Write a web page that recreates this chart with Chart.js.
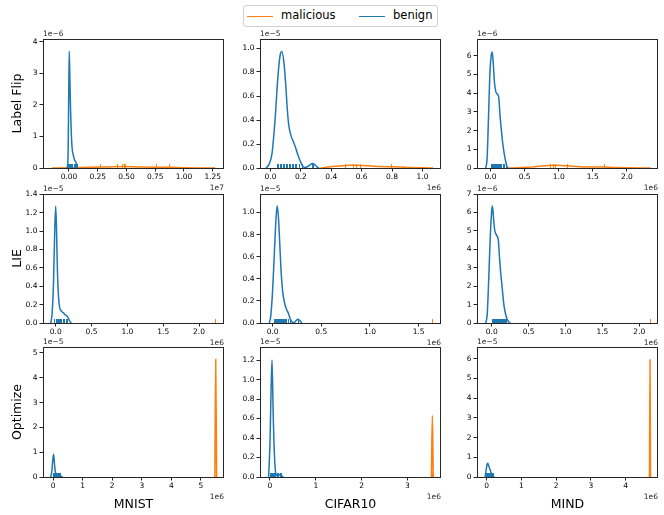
<!DOCTYPE html>
<html>
<head>
<meta charset="utf-8">
<script src="https://cdn.jsdelivr.net/npm/chart.js@4.4.1/dist/chart.umd.min.js"></script>
<style>
  body { margin: 0; background: #fff; }
  #wrap { position: relative; width: 664px; height: 515px; overflow: hidden; font-family: 'DejaVu Sans', sans-serif; }
  .panel { position: absolute; }
  #legend { position: absolute; left: 243px; top: 5px; width: 193px; height: 20px; border: 1px solid #d0d0d0; border-radius: 3px; background: #fff; }
  #legend span.line { position: absolute; top: 10px; width: 26px; height: 0; border-top: 1.5px solid; }
  #legend span.txt { position: absolute; top: 2px; font-size: 11.5px; color: #000; }
</style>
</head>
<body>
<div id="wrap">
  <div id="legend">
    <span class="line" style="left:3px;border-color:#ff7f0e"></span><span class="txt" style="left:37px">malicious</span>
    <span class="line" style="left:115px;border-color:#1f77b4"></span><span class="txt" style="left:149px">benign</span>
  </div>
</div>
<script>
const BLUE = '#1f77b4';
const ORANGE = '#ff7f0e';

const datasetNames = ['MNIST', 'CIFAR10', 'MIND'];
const attackNames = ['Label Flip', 'LIE', 'Optimize'];

// KDE curves as [value, density] in the axis units shown (offset text carries the power of ten)
const flipMnistBenign = [[-0.015,0],[-0.008,0.4],[-0.003,2.0],[0.002,3.7],[0.008,2.8],[0.014,1.8],[0.02,1.1],[0.028,0.6],[0.038,0.4],[0.048,0.25],[0.058,0.2],[0.066,0.12],[0.074,0]];
const flipMnistMalicious = [[-0.15,0],[0.0,0.005],[0.2,0.02],[0.35,0.035],[0.47,0.045],[0.6,0.035],[0.75,0.025],[0.87,0.02],[1.0,0.01],[1.15,0.003],[1.27,0]];
const flipCifarBenign = [[-0.03,0],[-0.01,0.03],[0.01,0.12],[0.03,0.4],[0.05,0.78],[0.065,0.95],[0.075,0.97],[0.09,0.86],[0.1,0.7],[0.11,0.5],[0.12,0.36],[0.135,0.27],[0.15,0.22],[0.165,0.17],[0.18,0.11],[0.195,0.06],[0.21,0.02],[0.225,0.005],[0.24,0.008],[0.26,0.025],[0.275,0.038],[0.29,0.03],[0.305,0.01],[0.32,0]];
const flipCifarMalicious = [[0.33,0],[0.38,0.008],[0.45,0.016],[0.52,0.022],[0.57,0.023],[0.65,0.018],[0.72,0.012],[0.8,0.01],[0.9,0.005],[1.0,0.002],[1.07,0]];
const flipMindBenign = [[-0.07,0],[-0.05,0.5],[-0.03,2.6],[-0.01,5.0],[0.01,6.0],[0.025,6.2],[0.04,5.6],[0.06,4.5],[0.08,4.05],[0.1,3.95],[0.12,3.8],[0.14,2.8],[0.16,2.0],[0.18,1.3],[0.2,0.8],[0.22,0.4],[0.24,0.1],[0.26,0]];
const flipMindMalicious = [[0.27,0],[0.4,0.01],[0.55,0.04],[0.7,0.09],[0.85,0.14],[0.95,0.15],[1.05,0.14],[1.2,0.1],[1.4,0.06],[1.55,0.05],[1.65,0.05],[1.8,0.03],[2.0,0.015],[2.2,0.005],[2.35,0]];

const lieMnistBenign = [[-0.07,0],[-0.05,0.1],[-0.03,0.45],[-0.015,0.95],[0,1.27],[0.012,1.0],[0.025,0.55],[0.04,0.28],[0.055,0.17],[0.07,0.14],[0.09,0.12],[0.11,0.11],[0.13,0.09],[0.15,0.08],[0.17,0.065],[0.19,0.03],[0.21,0.005],[0.22,0]];
const lieCifarBenign = [[-0.035,0],[-0.02,0.06],[0,0.3],[0.02,0.68],[0.035,0.95],[0.047,1.06],[0.06,0.95],[0.075,0.68],[0.09,0.42],[0.105,0.27],[0.12,0.19],[0.14,0.13],[0.16,0.09],[0.18,0.04],[0.2,0.008],[0.22,0.005],[0.24,0.02],[0.26,0.035],[0.28,0.02],[0.3,0]];
const lieMindBenign = [[-0.08,0],[-0.06,0.5],[-0.04,2.4],[-0.02,4.6],[0,6.1],[0.01,6.35],[0.025,5.7],[0.04,5.05],[0.055,4.85],[0.075,4.7],[0.09,4.5],[0.105,3.6],[0.12,2.8],[0.14,2.0],[0.165,1.0],[0.19,0.45],[0.22,0.12],[0.25,0]];

const optMnistBenign = [[-0.08,0],[-0.04,0.25],[0,0.8],[0.02,0.92],[0.05,0.5],[0.08,0.2],[0.12,0.12],[0.17,0.12],[0.22,0.08],[0.27,0.03],[0.32,0]];
const optMnistMalicious = [[5.47,0],[5.5,4.75],[5.53,0]];
const optCifarBenign = [[-0.03,0],[0,0.35],[0.02,0.8],[0.044,1.2],[0.07,0.65],[0.1,0.2],[0.13,0.03],[0.17,0.01],[0.2,0.02],[0.23,0.03],[0.26,0.01],[0.29,0]];
const optCifarMalicious = [[3.525,0],[3.545,0.63],[3.565,0]];
const optMindBenign = [[-0.05,0],[-0.02,0.3],[0.01,0.65],[0.03,0.7],[0.06,0.55],[0.1,0.35],[0.14,0.15],[0.18,0.04],[0.22,0]];
const optMindMalicious = [[4.685,0],[4.7,5.95],[4.715,0]];

// rug marks (individual client values)
const flipMnistBenignRug = [-0.01,-0.005,0,0.005,0.01,0.015,0.02,0.03,0.04,0.05,0.06,0.07];
const flipMnistMaliciousRug = [0.27,0.42,0.46,0.48,0.49,0.76,0.87];
const flipCifarBenignRug = [0.04,0.05,0.06,0.07,0.08,0.09,0.1,0.11,0.12,0.13,0.14,0.15,0.16,0.17,0.19,0.21,0.27,0.28];
const flipCifarMaliciousRug = [0.49,0.54,0.56,0.59,0.79];
const flipMindBenignRug = [0,0.02,0.03,0.04,0.05,0.06,0.07,0.08,0.09,0.1,0.11,0.12,0.13,0.14,0.15,0.16,0.18,0.2,0.22];
const flipMindMaliciousRug = [0.87,0.92,0.94,1.12,1.66];
const lieMnistBenignRug = [-0.02,0,0.01,0.02,0.03,0.04,0.05,0.06,0.08,0.1,0.12,0.14,0.16];
const lieMnistMaliciousRug = [2.22];
const lieCifarBenignRug = [0.01,0.02,0.03,0.04,0.05,0.06,0.07,0.08,0.09,0.1,0.11,0.12,0.13,0.14,0.16,0.18,0.26];
const lieCifarMaliciousRug = [1.64];
const lieMindBenignRug = [0,0.02,0.03,0.04,0.05,0.06,0.07,0.08,0.09,0.1,0.11,0.12,0.13,0.14,0.15,0.16,0.18,0.2];
const lieMindMaliciousRug = [2.14];
const optMnistBenignRug = [0,0.02,0.04,0.06,0.08,0.1,0.13,0.16,0.2,0.25];
const optMnistMaliciousRug = [5.5];
const optCifarBenignRug = [0,0.02,0.04,0.06,0.08,0.1,0.12,0.15,0.18,0.22,0.24];
const optCifarMaliciousRug = [3.545];
const optMindBenignRug = [-0.02,0,0.02,0.04,0.06,0.08,0.1,0.12,0.15,0.18];
const optMindMaliciousRug = [4.7];

// tick labels
const xTickLabels = [
  [['0.00','0.25','0.50','0.75','1.00','1.25'], ['0.0','0.2','0.4','0.6','0.8','1.0'], ['0.0','0.5','1.0','1.5','2.0']],
  [['0.0','0.5','1.0','1.5','2.0'], ['0.0','0.5','1.0','1.5'], ['0.0','0.5','1.0','1.5','2.0']],
  [['0','1','2','3','4','5'], ['0','1','2','3'], ['0','1','2','3','4']]
];
const yTickLabels = [
  [['0','1','2','3','4'], ['0.0','0.2','0.4','0.6','0.8','1.0'], ['0','1','2','3','4','5','6']],
  [['0.0','0.2','0.4','0.6','0.8','1.0','1.2','1.4'], ['0.0','0.2','0.4','0.6','0.8','1.0'], ['0','1','2','3','4','5','6','7']],
  [['0','1','2','3','4','5'], ['0.0','0.2','0.4','0.6','0.8','1.0','1.2'], ['0','1','2','3','4','5','6']]
];
const xOffsets = [['1e7','1e6','1e6'], ['1e6','1e6','1e6'], ['1e6','1e6','1e6']];
const yOffsets = [['1e\u22126','1e\u22125','1e\u22126'], ['1e\u22125','1e\u22125','1e\u22126'], ['1e\u22125','1e\u22125','1e\u22125']];

// axis limits [xmin, xmax, ymax]
const limits = [
  [[-0.226, 1.348, 4.086], [-0.069, 1.122, 1.075], [-0.198, 2.456, 6.89]],
  [[-0.177, 2.348, 1.403], [-0.13, 1.73, 1.167], [-0.199, 2.253, 7.0]],
  [[-0.34, 5.78, 5.24], [-0.218, 3.734, 1.334], [-0.28, 4.93, 6.6]]
];

const benignCurves = [
  [flipMnistBenign, flipCifarBenign, flipMindBenign],
  [lieMnistBenign, lieCifarBenign, lieMindBenign],
  [optMnistBenign, optCifarBenign, optMindBenign]
];
const maliciousCurves = [
  [flipMnistMalicious, flipCifarMalicious, flipMindMalicious],
  [[], [], []],
  [optMnistMalicious, optCifarMalicious, optMindMalicious]
];
const benignRugs = [
  [flipMnistBenignRug, flipCifarBenignRug, flipMindBenignRug],
  [lieMnistBenignRug, lieCifarBenignRug, lieMindBenignRug],
  [optMnistBenignRug, optCifarBenignRug, optMindBenignRug]
];
const maliciousRugs = [
  [flipMnistMaliciousRug, flipCifarMaliciousRug, flipMindMaliciousRug],
  [lieMnistMaliciousRug, lieCifarMaliciousRug, lieMindMaliciousRug],
  [optMnistMaliciousRug, optCifarMaliciousRug, optMindMaliciousRug]
];

// plot boxes in the page
const colLeft = [43, 260, 477], colRight = [224, 441, 658];
const rowTop = [39, 194, 347], rowBottom = [168, 323, 477];

const FONT = "'DejaVu Sans', sans-serif";
const INK = '#262626';

// rug, full box frame and the matplotlib style offset texts
const panelDecor = {
  id: 'panelDecor',
  afterDatasetsDraw(chart, args, opts) {
    const { ctx, chartArea: a, scales: { x } } = chart;
    ctx.save();
    [[opts.benignRug, BLUE], [opts.maliciousRug, ORANGE]].forEach(([vals, color]) => {
      ctx.strokeStyle = color;
      ctx.lineWidth = 1;
      ctx.beginPath();
      vals.forEach(v => {
        const px = Math.round(x.getPixelForValue(v)) + 0.5;
        ctx.moveTo(px, a.bottom);
        ctx.lineTo(px, a.bottom - 4);
      });
      ctx.stroke();
    });
    ctx.strokeStyle = INK;
    ctx.lineWidth = 1;
    ctx.strokeRect(Math.round(a.left) + 0.5, Math.round(a.top) + 0.5, Math.round(a.right - a.left) - 1, Math.round(a.bottom - a.top));
    ctx.fillStyle = INK;
    ctx.font = '7.5px ' + FONT;
    ctx.textAlign = 'left';
    ctx.textBaseline = 'bottom';
    ctx.fillText(opts.yOffset, a.left, a.top - 1);
    ctx.textAlign = 'right';
    ctx.textBaseline = 'top';
    ctx.fillText(opts.xOffset, a.right, a.bottom + 16);
    ctx.restore();
  }
};

function toPoints(curve) {
  return curve.map(p => ({ x: p[0], y: p[1] }));
}

function makePanel(r, c) {
  const yW = c === 0 ? 43 : 40;
  const padT = 14, padR = 8;
  const xH = r === 2 ? 38 : 24;
  const w = colRight[c] - colLeft[c] + yW + padR;
  const h = rowBottom[r] - rowTop[r] + padT + xH;

  const div = document.createElement('div');
  div.className = 'panel';
  div.style.left = (colLeft[c] - yW) + 'px';
  div.style.top = (rowTop[r] - padT) + 'px';
  div.style.width = w + 'px';
  div.style.height = h + 'px';
  const canvas = document.createElement('canvas');
  canvas.width = w;
  canvas.height = h;
  div.appendChild(canvas);
  document.getElementById('wrap').appendChild(div);

  const xLabels = xTickLabels[r][c], yLabels = yTickLabels[r][c];
  const [xmin, xmax, ymax] = limits[r][c];
  const tickFont = { family: FONT, size: 7.5 };
  const grid = { drawOnChartArea: false, drawTicks: true, tickLength: 3.5, tickColor: INK, tickWidth: 1 };

  new Chart(canvas, {
    type: 'line',
    data: {
      datasets: [
        {
          label: 'benign',
          data: toPoints(benignCurves[r][c]),
          borderColor: BLUE,
          borderWidth: 1.5,
          pointRadius: 0,
          cubicInterpolationMode: 'monotone',
          order: 1
        },
        {
          label: 'malicious',
          data: toPoints(maliciousCurves[r][c]),
          borderColor: ORANGE,
          borderWidth: 1.5,
          pointRadius: 0,
          cubicInterpolationMode: 'monotone',
          order: 2
        }
      ]
    },
    options: {
      responsive: false,
      animation: false,
      layout: { padding: { top: padT, right: padR, left: 0, bottom: 0 } },
      plugins: {
        legend: { display: false },
        tooltip: { enabled: false },
        panelDecor: {
          benignRug: benignRugs[r][c],
          maliciousRug: maliciousRugs[r][c],
          xOffset: xOffsets[r][c],
          yOffset: yOffsets[r][c]
        }
      },
      scales: {
        x: {
          type: 'linear',
          min: xmin,
          max: xmax,
          grid: grid,
          border: { display: false },
          afterBuildTicks: s => { s.ticks = xLabels.map(v => ({ value: parseFloat(v) })); },
          afterFit: s => { s.height = xH; },
          ticks: {
            autoSkip: false,
            maxRotation: 0,
            padding: 1,
            color: '#000',
            font: tickFont,
            callback: (v, i) => xLabels[i]
          },
          title: {
            display: r === 2,
            text: datasetNames[c],
            color: '#000',
            font: { family: FONT, size: 12.5 },
            padding: { top: 0, bottom: 3 }
          }
        },
        y: {
          type: 'linear',
          min: 0,
          max: ymax,
          grid: grid,
          border: { display: false },
          afterBuildTicks: s => { s.ticks = yLabels.map(v => ({ value: parseFloat(v) })); },
          afterFit: s => { s.width = yW; },
          ticks: {
            autoSkip: false,
            padding: 2,
            color: '#000',
            font: tickFont,
            callback: (v, i) => yLabels[i]
          },
          title: {
            display: c === 0,
            text: attackNames[r],
            color: '#000',
            font: { family: FONT, size: 12.5 },
            padding: { top: 10.5, bottom: 0 }
          }
        }
      }
    },
    plugins: [panelDecor]
  });
}

for (let r = 0; r < 3; r++) {
  for (let c = 0; c < 3; c++) {
    makePanel(r, c);
  }
}
</script>
</body>
</html>
